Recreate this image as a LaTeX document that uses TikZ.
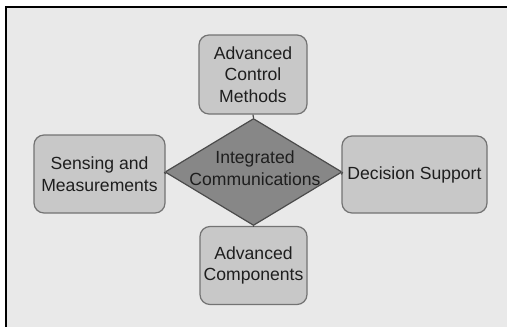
\documentclass[tikz,border=0pt]{standalone}
\usepackage{fontspec}
\setmainfont{Liberation Sans}
\usetikzlibrary{shapes.geometric}
\definecolor{pagebg}{RGB}{233,233,233}
\definecolor{boxfill}{RGB}{200,200,200}
\definecolor{boxline}{RGB}{115,115,115}
\definecolor{diafill}{RGB}{135,135,135}
\definecolor{dialine}{RGB}{75,75,75}
\definecolor{ink}{RGB}{30,30,30}
\begin{document}
\begin{tikzpicture}[x=1pt,y=-1pt,
  lbl/.style={font=\fontsize{17.6}{21.5}\selectfont, text=ink, align=center, inner sep=0pt},
  box/.style={lbl, draw=boxline, fill=boxfill, line width=1.2pt, rounded corners=10pt},
  hub/.style={shape=diamond, draw=dialine, fill=diafill, line width=1.2pt, inner sep=0pt},
  link/.style={draw=dialine, line width=1.2pt}]
\useasboundingbox (0,0) rectangle (507,327);
\fill[white] (0,0) rectangle (507,327);
\fill[pagebg] (6,7) rectangle (507,327);
\draw[line width=2pt] (6,327) -- (6,7) -- (507,7);

\node[hub, minimum width=177pt, minimum height=107pt] (hub) at (253.5,172) {};
\node[lbl] (hubtext) at (255,168) {Integrated\\Communications};

\node[box, minimum width=108pt, minimum height=79pt] (top) at (253,74.5) {Advanced\\Control\\Methods};
\node[box, minimum width=131pt, minimum height=78pt] (left) at (99.5,174) {Sensing and\\Measurements};
\node[box, minimum width=145pt, minimum height=77pt] (right) at (414.5,174.5) {Decision Support};
\node[box, minimum width=107pt, minimum height=78pt] (bottom) at (253.5,265.5) {Advanced\\Components};

\draw[link] (top.south) -- (hub.north);
\draw[link] (hub.south) -- (bottom.north);
\draw[link] (hub.west) -- (left.east);
\draw[link] (hub.east) -- (right.west);
\end{tikzpicture}
\end{document}
